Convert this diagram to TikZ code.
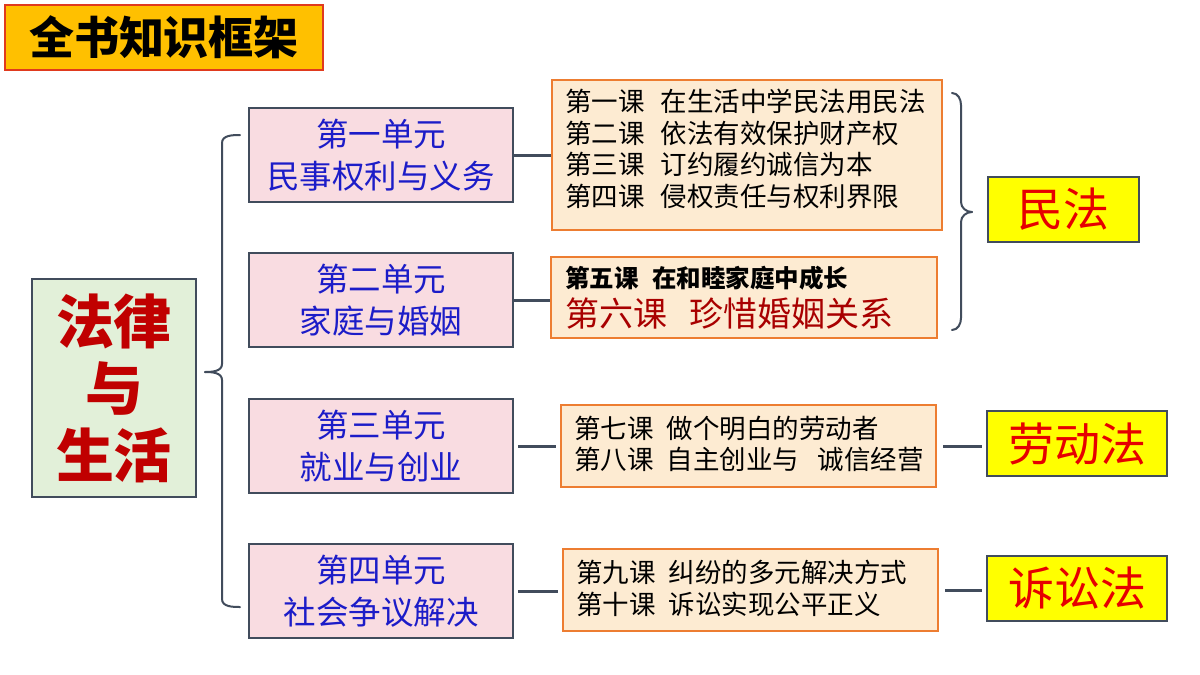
\documentclass[tikz,border=0pt]{standalone}
\usepackage{fontspec}
\newfontfamily\cjk{Noto Sans CJK SC}
\definecolor{titlefill}{HTML}{FFC000}
\definecolor{titleborder}{HTML}{E03A1E}
\definecolor{mainfill}{HTML}{E2F0D9}
\definecolor{slate}{HTML}{414C5C}
\definecolor{unitfill}{HTML}{F9DCE1}
\definecolor{unittext}{HTML}{1C1CC8}
\definecolor{lessonfill}{HTML}{FDEBD2}
\definecolor{lessonborder}{HTML}{ED7D31}
\definecolor{mainred}{HTML}{C00000}
\definecolor{lawred}{HTML}{E60000}
\definecolor{darkred}{HTML}{A80000}
\definecolor{lawfill}{HTML}{FFFF00}
\tikzset{
  x=1pt, y=-1pt,
  titlebox/.style={draw=titleborder, fill=titlefill, line width=2pt, inner sep=0pt,
    font={\cjk\bfseries\fontsize{45}{48}\selectfont}, text=black},
  mainbox/.style={draw=slate, fill=mainfill, line width=2.5pt, inner sep=0pt, align=center,
    font={\cjk\bfseries\fontsize{58}{67}\selectfont}, text=mainred},
  unitbox/.style={draw=slate, fill=unitfill, line width=2.5pt, inner sep=0pt, align=center,
    minimum width=264pt, minimum height=94pt,
    font={\cjk\fontsize{32.5}{42}\selectfont}, text=unittext},
  lessonbox/.style={draw=lessonborder, fill=lessonfill, line width=2.5pt, inner sep=0pt},
  lessontext/.style={anchor=west, align=left, inner sep=0pt, text=black,
    font={\cjk\fontsize{26.5}{31.5}\selectfont}},
  lawbox/.style={draw=slate, fill=lawfill, line width=2.5pt, inner sep=0pt,
    font={\cjk\fontsize{46}{48}\selectfont}, text=lawred},
  conn/.style={draw=slate, line width=3pt},
  bracepath/.style={draw=slate, line width=2pt, line cap=round, line join=round}
}
\begin{document}
\begin{tikzpicture}
\useasboundingbox (0,0) rectangle (1200,675);
\fill[white] (0,0) rectangle (1200,675);

% title
\node[titlebox, minimum width=318pt, minimum height=65pt] (title) at (164,37.5) {全书知识框架};

% main box
\node[mainbox, minimum width=164pt, minimum height=218pt] (main) at (114,388) {法律\\与\\生活};

% units
\node[unitbox] (u1) at (381,155) {第一单元\\民事权利与义务};
\node[unitbox] (u2) at (381,300) {第二单元\\家庭与婚姻};
\node[unitbox] (u3) at (381,446) {第三单元\\就业与创业};
\node[unitbox] (u4) at (381,591) {第四单元\\社会争议解决};

% lesson boxes
\node[lessonbox, minimum width=390pt, minimum height=150pt] (l1) at (747,155) {};
\node[lessonbox, minimum width=386pt, minimum height=81pt] (l2) at (744,297.5) {};
\node[lessonbox, minimum width=375pt, minimum height=82pt] (l3) at (748.5,446) {};
\node[lessonbox, minimum width=375pt, minimum height=82pt] (l4) at (750.5,590) {};

\node[lessontext] (l1t) at (565,149) {第一课\hspace{0.6em}在生活中学民法用民法\\第二课\hspace{0.6em}依法有效保护财产权\\第三课\hspace{0.6em}订约履约诚信为本\\第四课\hspace{0.6em}侵权责任与权利界限};
\node[lessontext, font={\cjk\bfseries\fontsize{24.5}{26}\selectfont}] (l2a) at (565,278) {第五课\hspace{0.55em}在和睦家庭中成长};
\node[lessontext, text=darkred, font={\cjk\fontsize{34}{36}\selectfont}] (l2b) at (565,314) {第六课\hspace{0.65em}珍惜婚姻关系};
\node[lessontext] (l3t) at (574,444) {第七课\hspace{0.5em}做个明白的劳动者\\第八课\hspace{0.5em}自主创业与\hspace{0.7em}诚信经营};
\node[lessontext] (l4t) at (576,588.5) {第九课\hspace{0.5em}纠纷的多元解决方式\\第十课\hspace{0.5em}诉讼实现公平正义};

% law boxes
\node[lawbox, minimum width=151pt, minimum height=65pt] (law1) at (1063.5,209.5) {民法};
\node[lawbox, minimum width=180pt, minimum height=65pt] (law2) at (1077,443.5) {劳动法};
\node[lawbox, minimum width=180pt, minimum height=65pt] (law3) at (1077,588.5) {诉讼法};

% connectors units -> lessons
\draw[conn] (u1.east) -- (u1.east -| l1.west);
\draw[conn] (u2.east) -- (u2.east -| l2.west);
\draw[conn, shorten <=4pt, shorten >=4pt] (u3.east) -- (u3.east -| l3.west);
\draw[conn, shorten <=4pt, shorten >=4pt] (u4.east) -- (u4.east -| l4.west);

% connectors lessons -> laws
\draw[conn, shorten <=6pt, shorten >=4pt] (l3.east) -- (l3.east -| law2.west);
\draw[conn, shorten <=6pt, shorten >=4pt] (l4.east) -- (l4.east -| law3.west);

% left brace
\coordinate (lbtop) at (240,135);
\coordinate (lbtip) at (205,372);
\coordinate (lbbot) at (240,607);
\draw[bracepath] (lbtop) to[out=180,in=90] (222,143) -- (222,364) to[out=-90,in=0] (lbtip);
\draw[bracepath] (lbtip) to[out=0,in=90] (222,380) -- (222,599) to[out=-90,in=180] (lbbot);

% right brace
\coordinate (rbtop) at (952,93);
\coordinate (rbtip) at (972,212);
\coordinate (rbbot) at (952,330);
\draw[bracepath] (rbtop) to[out=0,in=90] (961,105) -- (961,202) to[out=-90,in=180] (rbtip);
\draw[bracepath] (rbtip) to[out=180,in=90] (961,222) -- (961,318) to[out=-90,in=0] (rbbot);
\end{tikzpicture}
\end{document}
